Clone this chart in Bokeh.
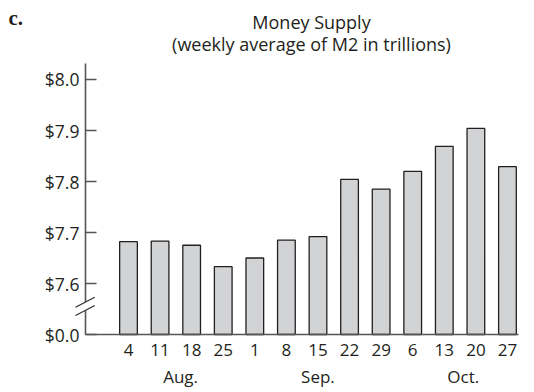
from bokeh.plotting import figure
from bokeh.models import (FixedTicker, LinearAxis, Arrow, PolyAnnotation, Label,
                          ColumnDataSource, Range1d)
from bokeh.embed import file_html
from bokeh.resources import INLINE

# ---- data ----
day_labels = ["4", "11", "18", "25", "1", "8", "15", "22", "29", "6", "13", "20", "27"]
m2_values = [7.682, 7.683, 7.675, 7.633, 7.650, 7.685, 7.692, 7.804, 7.785, 7.820, 7.869, 7.904, 7.829]
month_labels = ["Aug.", "Sep.", "Oct."]
month_pos = [1.65, 6.0, 10.6]
y_ticks = [7.5, 7.6, 7.7, 7.8, 7.9, 8.0]
y_tick_labels = ["$0.0", "$7.6", "$7.7", "$7.8", "$7.9", "$8.0"]
axis_floor = 7.5   # position where "$0.0" is drawn (broken axis)
axis_top = 8.031
title_lines = ["Money Supply", "(weekly average of M2 in trillions)"]
panel_letter = "c."

FONT = "Open Sans"
TXT = "#231f20"
AX = "#555555"

x_idx = list(range(len(day_labels)))
src = ColumnDataSource(dict(x=x_idx, top=m2_values))

W, H = 526, 390
x_start, x_end = -4.053, 12.603
y_start, y_end = 7.3902, 8.1549
y_axis_x = -1.362          # where the value axis sits
x_axis_end = 12.349        # right end of the category axis line

p = figure(width=W, height=H, output_backend="svg", toolbar_location=None,
           x_range=Range1d(x_start, x_end), y_range=Range1d(y_start, y_end),
           min_border=0, x_axis_location=None, y_axis_location=None)
p.outline_line_color = None
p.grid.visible = False
p.background_fill_color = "white"
p.border_fill_color = "white"

p.vbar(x="x", top="top", bottom=axis_floor, width=0.56, source=src,
       fill_color="#d2d3d5", line_color="#231f20", line_width=1.3)

# value axis
ya = LinearAxis(ticker=FixedTicker(ticks=y_ticks), fixed_location=y_axis_x,
                bounds=(axis_floor, axis_top),
                major_label_overrides={t: l for t, l in zip(y_ticks, y_tick_labels)})
ya.major_tick_in = 11
ya.major_tick_out = 0
ya.minor_tick_line_color = None
ya.axis_line_color = AX
ya.axis_line_width = 1.6
ya.major_tick_line_color = AX
ya.major_tick_line_width = 1.4
ya.major_label_text_font = FONT
ya.major_label_text_font_size = "17.5px"
ya.major_label_text_color = TXT
ya.major_label_standoff = 6
p.add_layout(ya, "left")

# category axis (days)
xa = LinearAxis(ticker=FixedTicker(ticks=x_idx), fixed_location=axis_floor,
                bounds=(y_axis_x, x_axis_end),
                major_label_overrides={i: l for i, l in zip(x_idx, day_labels)})
xa.major_tick_line_color = None
xa.minor_tick_line_color = None
xa.axis_line_color = AX
xa.axis_line_width = 1.6
xa.major_label_text_font = FONT
xa.major_label_text_font_size = "17px"
xa.major_label_text_color = TXT
xa.major_label_standoff = 3
p.add_layout(xa, "below")

# month labels (second row)
ma = LinearAxis(ticker=FixedTicker(ticks=month_pos), fixed_location=axis_floor,
                major_label_overrides={v: l for v, l in zip(month_pos, month_labels)})
ma.major_tick_line_color = None
ma.minor_tick_line_color = None
ma.axis_line_color = None
ma.major_label_text_font = FONT
ma.major_label_text_font_size = "17px"
ma.major_label_text_color = TXT
ma.major_label_standoff = 24
p.add_layout(ma, "below")

# title (screen units: from frame left / frame bottom)
p.add_layout(Label(x=311, y=H - 21, x_units="screen", y_units="screen", text=title_lines[0],
                   text_align="center", text_baseline="alphabetic", text_font=FONT,
                   text_font_size="18px", text_color=TXT))
p.add_layout(Label(x=311, y=H - 43, x_units="screen", y_units="screen", text=title_lines[1],
                   text_align="center", text_baseline="alphabetic", text_font=FONT,
                   text_font_size="18px", text_color=TXT))
p.add_layout(Label(x=8, y=H - 17.5, x_units="screen", y_units="screen", text=panel_letter,
                   text_align="left", text_baseline="alphabetic", text_font="Liberation Serif",
                   text_font_style="bold", text_font_size="21px", text_color=TXT))

# axis break marks
bx0, bx1 = y_axis_x - 0.316, y_axis_x + 0.295
slash_y = [7.5373, 7.5535]
rise = 0.0196
gx0, gx1 = y_axis_x - 0.09, y_axis_x + 0.09
def on_line(y0, x):
    return y0 + rise * (x - bx0) / (bx1 - bx0)
gap = PolyAnnotation(xs=[gx0, gx1, gx1, gx0],
                     ys=[on_line(slash_y[1], gx0), on_line(slash_y[1], gx1),
                         on_line(slash_y[0], gx1), on_line(slash_y[0], gx0)],
                     fill_color="white", fill_alpha=1.0, line_color=None)
p.add_layout(gap)
for yb in slash_y:
    p.add_layout(Arrow(x_start=bx0, y_start=yb, x_end=bx1, y_end=yb + rise, end=None,
                       line_color="#333333", line_width=1.3))

open("out.html", "w").write(file_html(p, INLINE))
